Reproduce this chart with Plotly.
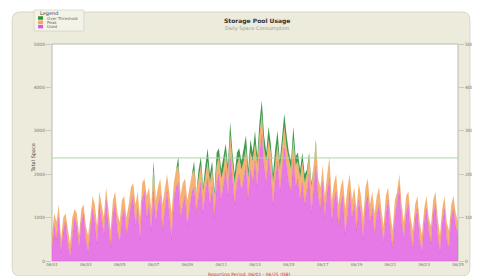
import plotly.graph_objects as go

# ---- data ----
x_idx = list(range(181))
tick_vals = [0, 15, 30, 45, 60, 75, 90, 105, 120, 135, 150, 165, 180]
tick_text = ["06/01", "06/03", "06/05", "06/07", "06/09", "06/11", "06/13",
             "06/15", "06/17", "06/19", "06/21", "06/23", "06/25"]
y_ticks = [0, 10, 20, 30, 40, 50]
y_labels = ["0", "1000", "2000", "3000", "4000", "5000"]

used = [3, 8, 5, 10, 2, 7, 9, 4, 1, 6, 10, 8, 3, 9, 11, 5, 2, 7,
        12, 9, 4, 13, 10, 6, 14, 8, 3, 11, 13, 7, 4, 10, 12, 6, 9,
        13, 15, 8, 12, 5, 14, 16, 10, 13, 7, 16,
        9, 13, 15, 7, 12, 16, 11, 5, 14, 17, 18, 10, 13, 15, 8, 12, 16, 17, 11,
        15, 18, 11, 16, 19, 13, 17, 10, 18, 20, 14, 17, 21, 15, 24, 19, 13, 18, 20,
        16, 19, 22, 14, 21, 18, 23, 17, 25, 29, 22, 18, 24, 20, 13, 19, 23, 16, 22, 26,
        22, 18, 16, 24, 17, 19, 14,
        18, 13, 16, 20, 11, 17, 22, 15, 12, 18, 10, 16, 19,
        9, 14, 16, 8, 13, 15, 6, 12, 16, 10, 13, 7, 14, 11, 5, 13, 15, 9, 12, 6, 11,
        13, 8, 4, 11, 14, 7, 3, 10, 13, 17, 9, 5, 11, 13, 6, 3, 10, 12, 5, 2,
        9, 12, 7, 4, 11, 13, 6, 2, 9, 12, 5, 3, 10, 12, 8, 6]
peak = [3, 3, 4, 3, 3, 3, 2, 3, 3, 4, 2, 3, 3, 3, 2, 3, 4, 3,
        3, 4, 4, 3, 3, 4, 3, 4, 4, 3, 3, 4, 5, 4, 3, 4, 4,
        4, 3, 5, 4, 5, 4, 3, 5, 4, 5, 5,
        5, 4, 4, 6, 5, 4, 5, 6, 4, 4, 4, 5, 5, 4, 6, 5, 4, 4, 5,
        4, 4, 5, 4, 4, 5, 4, 5, 4, 4, 5, 4, 4, 5, 5, 4, 5, 4, 4,
        5, 4, 4, 5, 4, 5, 4, 5, 4, 5, 4, 5, 4, 5, 5, 4, 4, 5, 4, 5, 4, 5, 5, 4, 5, 4, 5,
        5, 5, 4, 4, 6, 5, 5, 4, 5, 4, 5, 4, 5,
        5, 4, 4, 5, 4, 4, 6, 5, 4, 4, 4, 5, 4, 4, 5, 4, 4, 4, 4, 5, 4,
        4, 4, 4, 4, 3, 4, 4, 4, 3, 3, 4, 4, 4, 3, 4, 4, 3, 3, 4, 4,
        3, 3, 3, 4, 3, 3, 4, 4, 3, 3, 4, 4, 3, 3, 3, 3]
over = ([0] * 45 + [2] + [0] * 10 + [2] + [0] * 6 + [2, 0] +
        [2, 2, 1, 2, 3, 2, 2, 1, 3, 2, 2, 3, 2, 2, 3, 2, 2, 3, 2] +
        [2, 3, 3, 2, 3, 2, 3, 2, 3, 3, 3, 2, 3, 2, 2, 3, 3, 2, 3, 3, 3, 2, 2, 3, 2, 2, 2] +
        [2, 2, 1, 1, 1] + [0, 1] + [0] * 63)
threshold = 23.75

series_names = ["Over Threshold", "Peak", "Used"]
series_colors = ["#2f8f3a", "#f5a55a", "#de55de"]

fig = go.Figure()
fig.add_trace(go.Scatter(x=x_idx, y=used, name=series_names[2], stackgroup="s",
                         mode="lines", line=dict(color="#d848d8", width=0.3),
                         fillcolor="rgba(224,92,224,0.82)"))
fig.add_trace(go.Scatter(x=x_idx, y=peak, name=series_names[1], stackgroup="s",
                         mode="lines", line=dict(color="#f5a55a", width=0),
                         fillcolor="rgba(245,165,90,0.85)"))
fig.add_trace(go.Scatter(x=x_idx, y=over, name=series_names[0], stackgroup="s",
                         mode="lines", line=dict(color="#2f8f3a", width=0),
                         fillcolor="rgba(47,143,58,0.9)"))
fig.add_trace(go.Scatter(x=[x_idx[0], x_idx[-1]], y=[threshold, threshold],
                         mode="lines", line=dict(color="#a8d8a8", width=1),
                         showlegend=False, hoverinfo="skip"))
fig.add_trace(go.Scatter(x=[x_idx[0]], y=[0], yaxis="y2", mode="markers",
                         marker=dict(opacity=0), showlegend=False, hoverinfo="skip"))

# page offset (default body margin) and layout in figure pixels
OFF = 8
W, H = 480, 276
L, R, T, B = 52 - OFF, W - (460 - OFF), 44 - OFF, H - (261 - OFF)
pw, ph = W - L - R, H - T - B
def px(xp): return (xp - OFF - L) / pw          # image x -> paper x
def py(yp): return (H - B - (yp - OFF)) / ph    # image y -> paper y
x0, x1, y0, y1, r = px(12), px(472), py(276), py(12), 0.02
ry = r * pw / ph
path = (f"M {x0+r},{y1} L {x1-r},{y1} Q {x1},{y1} {x1},{y1-ry} L {x1},{y0+ry} "
        f"Q {x1},{y0} {x1-r},{y0} L {x0+r},{y0} Q {x0},{y0} {x0},{y0+ry} "
        f"L {x0},{y1-ry} Q {x0},{y1} {x0+r},{y1} Z")
shapes = [
    dict(type="path", path=path, xref="paper", yref="paper", layer="below",
         fillcolor="#ecebdc", line=dict(color="#d8d6c6", width=1)),
    dict(type="rect", x0=0, x1=1, y0=0, y1=1, xref="paper", yref="paper",
         layer="below", fillcolor="white", line=dict(color="#b8b8b0", width=1)),
]
# custom legend box
lx0, lx1, ly0, ly1 = px(34), px(84), py(31), py(10)
shapes.append(dict(type="rect", x0=lx0, x1=lx1, y0=ly0, y1=ly1, xref="paper", yref="paper",
                   fillcolor="#f4f3ea", line=dict(color="#cfcdbd", width=0.6)))
annotations = [dict(x=px(38), y=py(13), xref="paper", yref="paper", text="Legend",
                    showarrow=False, xanchor="left", yanchor="middle",
                    font=dict(size=5, color="#444"))]
for k, (nm, col) in enumerate(zip(series_names, series_colors)):
    yy = py(18 + k * 4.3)
    shapes.append(dict(type="rect", x0=px(38), x1=px(43), y0=yy - 0.008, y1=yy + 0.008,
                       xref="paper", yref="paper", fillcolor=col, line=dict(width=0)))
    annotations.append(dict(x=px(45), y=yy, xref="paper", yref="paper", text=nm,
                            showarrow=False, xanchor="left", yanchor="middle",
                            font=dict(size=4, color="#666")))
annotations += [
    dict(x=px(258), y=py(15), xref="paper", yref="paper", text="<b>Storage Pool Usage</b>",
         showarrow=False, font=dict(size=6, color="#333")),
    dict(x=px(258), y=py(23), xref="paper", yref="paper", text="Daily Space Consumption",
         showarrow=False, font=dict(size=5, color="#999")),
    dict(x=px(250), y=py(270), xref="paper", yref="paper", yanchor="top",
         text="Reporting Period: 06/01 - 06/25 (GB)", showarrow=False,
         font=dict(size=4.5, color="#d03030")),
    dict(x=px(27), y=py(158), xref="paper", yref="paper", text="Total Space",
         textangle=-90, showarrow=False, font=dict(size=5, color="#444")),
]

fig.update_layout(
    width=W, height=H, margin=dict(l=L, r=R, t=T, b=B),
    paper_bgcolor="white", plot_bgcolor="rgba(0,0,0,0)",
    showlegend=False, shapes=shapes, annotations=annotations,
    font=dict(family="DejaVu Sans", size=5, color="#666"),
    xaxis=dict(range=[0, 180], tickvals=tick_vals, ticktext=tick_text, showgrid=False,
               zeroline=False, ticks="", tickfont=dict(size=4, color="#777"),
               showline=False),
    yaxis=dict(range=[0, 50], tickvals=y_ticks, ticktext=y_labels,
               showgrid=False, zeroline=False, ticks="outside", ticklen=5, tickcolor="#c8c8c0",
               tickfont=dict(size=4.5, color="#777")),
    yaxis2=dict(range=[0, 50], overlaying="y", side="right", tickvals=y_ticks,
                ticktext=y_labels, showgrid=False, zeroline=False,
                ticks="outside", ticklen=5, tickcolor="#c8c8c0",
                tickfont=dict(size=4.5, color="#777")),
)
fig.write_html("out.html")
